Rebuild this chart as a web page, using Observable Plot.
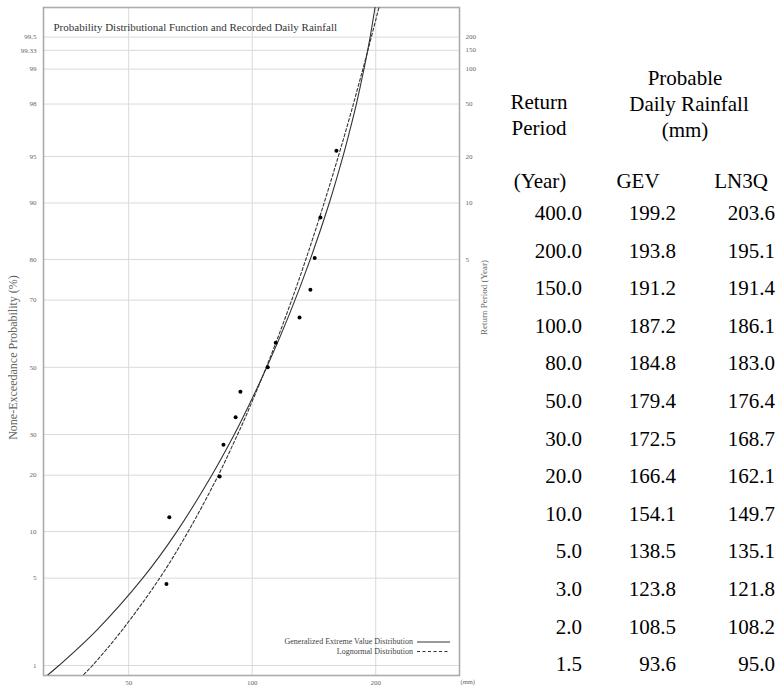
<!DOCTYPE html>
<html><head><meta charset="utf-8">
<script src="https://cdn.jsdelivr.net/npm/d3@7"></script>
<script src="https://cdn.jsdelivr.net/npm/@observablehq/plot@0.6"></script>
<style>
body{margin:0;background:#fff;width:782px;height:688px;position:relative;overflow:hidden;font-family:"Liberation Serif","Times New Roman",serif;}
#chart{position:absolute;left:0;top:0;}
.t{position:absolute;font-size:21px;color:#000;white-space:nowrap;line-height:22px;}
.lg{position:absolute;font-size:8px;color:#444;white-space:nowrap;line-height:8px;}
</style></head><body>
<div id="chart"></div>
<div id="table"></div>
<div id="legend"></div>
<script>
// ---- Table data (return period in years, probable daily rainfall in mm)
const returnPeriods = [400, 200, 150, 100, 80, 50, 30, 20, 10, 5, 3, 2, 1.5];
const gevRain  = [199.2, 193.8, 191.2, 187.2, 184.8, 179.4, 172.5, 166.4, 154.1, 138.5, 123.8, 108.5, 93.6];
const ln3qRain = [203.6, 195.1, 191.4, 186.1, 183.0, 176.4, 168.7, 162.1, 149.7, 135.1, 121.8, 108.2, 95.0];

// ---- Lower tails of the fitted curves
const lowerProb  = [0.006, 0.008, 0.01, 0.02, 0.05, 0.1, 0.2, 0.3];
const gevLower   = [28.5, 31.5, 33.8, 41.7, 54.1, 65.5, 79.7, 90.4];
const ln3qLower  = [35.8, 38.5, 40.8, 48.1, 59.5, 69.8, 82.7, 92.1];

// ---- Recorded daily rainfall (mm) and plotting positions
const obsRain = [61.8, 62.8, 83.3, 85.1, 91.1, 93.6, 109.1, 114.1, 130.4, 138.6, 142.0, 146.6, 160.4];
const obsProb = [0.0455, 0.1212, 0.197, 0.2727, 0.3485, 0.4242, 0.5, 0.5758, 0.6515, 0.7273, 0.803, 0.8788, 0.9545];

// ---- Axis ticks
const probTicks  = [0.995, 0.9933, 0.99, 0.98, 0.95, 0.90, 0.80, 0.70, 0.50, 0.30, 0.20, 0.10, 0.05, 0.01];
const probLabels = ["99.5", "99.33", "99", "98", "95", "90", "80", "70", "50", "30", "20", "10", "5", "1"];
const rpTicks    = [200, 150, 100, 50, 20, 10, 5];
const rpLabels   = ["200", "150", "100", "50", "20", "10", "5"];
const mmTicks    = [50, 100, 200];

// normal quantile (probability-paper scale transform)
function probit(p){
  const a=[-3.969683028665376e+01,2.209460984245205e+02,-2.759285104469687e+02,1.383577518672690e+02,-3.066479806614716e+01,2.506628277459239e+00];
  const b=[-5.447609879822406e+01,1.615858368580409e+02,-1.556989798598866e+02,6.680131188771972e+01,-1.328068155288572e+01];
  const c=[-7.784894002430293e-03,-3.223964580411365e-01,-2.400758277161838e+00,-2.549732539343734e+00,4.374664141464968e+00,2.938163982698783e+00];
  const d=[7.784695709041462e-03,3.224671290700398e-01,2.445134137142996e+00,3.754408661907416e+00];
  const pl=0.02425, ph=1-pl; let q,r;
  if(p<pl){q=Math.sqrt(-2*Math.log(p));return (((((c[0]*q+c[1])*q+c[2])*q+c[3])*q+c[4])*q+c[5])/((((d[0]*q+d[1])*q+d[2])*q+d[3])*q+1);}
  if(p<=ph){q=p-0.5;r=q*q;return (((((a[0]*r+a[1])*r+a[2])*r+a[3])*r+a[4])*r+a[5])*q/(((((b[0]*r+b[1])*r+b[2])*r+b[3])*r+b[4])*r+1);}
  q=Math.sqrt(-2*Math.log(1-p));return -(((((c[0]*q+c[1])*q+c[2])*q+c[3])*q+c[4])*q+c[5])/((((d[0]*q+d[1])*q+d[2])*q+d[3])*q+1);
}

const tableP = returnPeriods.map(T => 1 - 1/T);
const gevCurve = lowerProb.map((p,i)=>({p, mm: gevLower[i]}))
  .concat(tableP.map((p,i)=>({p, mm: gevRain[i]})).reverse());
const lnCurve = lowerProb.map((p,i)=>({p, mm: ln3qLower[i]}))
  .concat(tableP.map((p,i)=>({p, mm: ln3qRain[i]})).reverse());
const obs = obsRain.map((mm,i)=>({mm, p: obsProb[i]}));

const yTickVals = probTicks.map(probit);
const yLab = new Map(yTickVals.map((v,i)=>[v, probLabels[i]]));
const rTickVals = rpTicks.map(T => probit(1 - 1/T));
const rLab = new Map(rTickVals.map((v,i)=>[v, rpLabels[i]]));

const gridColor = "#dadada";
const tickColor = "#666";
const font = "Liberation Serif, Times New Roman, serif";

const plot = Plot.plot({
  width: 500, height: 688,
  marginLeft: 43, marginRight: 41, marginTop: 7, marginBottom: 13,
  style: {fontFamily: font, fontSize: "7px", color: tickColor, background: "white", overflow: "visible"},
  x: {type: "log", domain: [31, 320], axis: null},
  y: {domain: [probit(0.0081), probit(0.9975)], axis: null},
  marks: [
    Plot.gridY(yTickVals, {stroke: gridColor, strokeOpacity: 1, strokeWidth: 1}),
    Plot.gridX(mmTicks, {stroke: gridColor, strokeOpacity: 1, strokeWidth: 1}),
    Plot.axisY(yTickVals, {anchor: "left", tickSize: 0, tickPadding: 7, tickFormat: d => yLab.get(d), label: null, fontSize: 7, fill: tickColor}),
    Plot.axisY(rTickVals, {anchor: "right", tickSize: 0, tickPadding: 6, tickFormat: d => rLab.get(d), label: null, fontSize: 7, fill: tickColor}),
    Plot.axisX(mmTicks, {anchor: "bottom", tickSize: 0, tickPadding: 5, tickFormat: d => String(d), label: null, fontSize: 7, fill: tickColor}),
    Plot.frame({stroke: "#acacac", strokeWidth: 1.6}),
    Plot.line(gevCurve, {x: "mm", y: d => probit(d.p), stroke: "#333", strokeWidth: 1.1, curve: "catmull-rom", clip: true}),
    Plot.line(lnCurve, {x: "mm", y: d => probit(d.p), stroke: "#333", strokeWidth: 1.1, strokeDasharray: "3,2.2", curve: "catmull-rom", clip: true}),
    Plot.dot(obs, {x: "mm", y: d => probit(d.p), r: 2, fill: "#000", stroke: "none"}),
    Plot.text(["Probability Distributional Function and Recorded Daily Rainfall"], {frameAnchor: "top-left", dx: 10, dy: 16, textAnchor: "start", fontSize: 11, fill: "#333"}),
    Plot.text(["None-Exceedance Probability (%)"], {frameAnchor: "left", textAnchor: "middle", dx: -30, dy: 16, rotate: -90, fontSize: 12, fill: tickColor}),
    Plot.text(["Return Period (Year)"], {frameAnchor: "right", textAnchor: "middle", dx: 25, dy: -44, rotate: -90, fontSize: 9, fill: tickColor}),
    Plot.text(["(mm)"], {frameAnchor: "bottom-right", dx: 1, dy: 8, textAnchor: "start", fontSize: 6.5, fill: tickColor})
  ]
});
document.getElementById("chart").appendChild(plot);

// ---- Legend (inside the plot frame, bottom right)
const lg = document.getElementById("legend");
lg.innerHTML =
  `<div class="lg" style="right:${782-413}px;top:638px;">Generalized Extreme Value Distribution</div>` +
  `<div class="lg" style="right:${782-413}px;top:648px;">Lognormal Distribution</div>` +
  `<svg style="position:absolute;left:416px;top:636px" width="40" height="20">` +
  `<line x1="1" x2="34" y1="6" y2="6" stroke="#333" stroke-width="1"/>` +
  `<line x1="1" x2="34" y1="15.5" y2="15.5" stroke="#333" stroke-width="1" stroke-dasharray="3,2.5"/></svg>`;

// ---- Table
const tb = document.getElementById("table");
let html = "";
const put = (txt, cx, cy, align) => {
  if (align === "center") html += `<div class="t" style="left:${cx}px;top:${cy-11}px;transform:translateX(-50%)">${txt}</div>`;
  else html += `<div class="t" style="right:${782-cx}px;top:${cy-11}px">${txt}</div>`;
};
put("Return", 539, 102, "center");
put("Period", 539, 128, "center");
put("Probable", 685, 78, "center");
put("Daily Rainfall", 689, 104, "center");
put("(mm)", 685, 130, "center");
put("(Year)", 540, 181, "center");
put("GEV", 638, 181, "center");
put("LN3Q", 741, 181, "center");
returnPeriods.forEach((T, i) => {
  const cy = 213 + i * 37.6;
  put(T.toFixed(1), 582, cy, "right");
  put(gevRain[i].toFixed(1), 676, cy, "right");
  put(ln3qRain[i].toFixed(1), 775, cy, "right");
});
tb.innerHTML = html;
</script>
</body></html>
